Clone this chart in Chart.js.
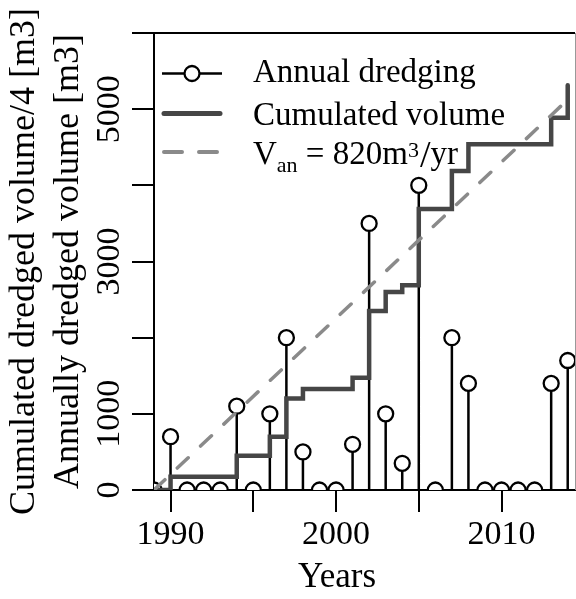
<!DOCTYPE html>
<html>
<head>
<meta charset="utf-8">
<script src="https://cdn.jsdelivr.net/npm/chart.js@4.4.1/dist/chart.umd.min.js"></script>
<style>
    html, body { margin: 0; padding: 0; background: #fff; }
    #wrap { width: 576px; height: 599px; }
</style>
</head>
<body>
<div id="wrap"><canvas id="chart"></canvas></div>
<script>
    const years = [1989, 1990, 1991, 1992, 1993, 1994, 1995, 1996, 1997, 1998, 1999, 2000, 2001,
        2002, 2003, 2004, 2005, 2006, 2007, 2008, 2009, 2010, 2011, 2012, 2013, 2014];
    // annually dredged volume [m3]
    const annualVolume = [0, 700, 0, 0, 0, 1100, 0, 1000, 2000, 500, 0, 0, 600,
        3500, 1000, 350, 4000, 0, 2000, 1400, 0, 0, 0, 0, 1400, 1700];
    // cumulated dredged volume / 4 [m3]
    const cumulatedVolume = [0, 175, 175, 175, 175, 450, 450, 700, 1200, 1325, 1325, 1325, 1475,
        2350, 2600, 2688, 3688, 3688, 4188, 4538, 4538, 4538, 4538, 4538, 4888, 5313];
    // V_an = 820 m3/yr line
    const trendYears = [1989, 2014];
    const trendVolume = [0, 5125];

    const xTicks = [1990, 1995, 2000, 2005, 2010];
    const xTickLabels = [1990, 2000, 2010];
    const yTicks = [0, 1000, 2000, 3000, 4000, 5000, 6000];
    const yTickLabels = [0, 1000, 3000, 5000];

    const serif = 'Liberation Serif';
    const stemColor = '#000000';
    const cumColor = '#464646';
    const trendColor = '#8a8a8a';

    // stems: (x,0) -> (x,v), then a gap
    const stemData = [];
    years.forEach((y, i) => {
        stemData.push({ x: y, y: 0 }, { x: y, y: annualVolume[i] }, { x: y, y: null });
    });

    const framePlugin = {
        id: 'frame',
        afterDraw(chart) {
            const { ctx, chartArea: a } = chart;
            ctx.save();
            ctx.strokeStyle = '#000';
            ctx.lineWidth = 2;
            ctx.beginPath();
            ctx.moveTo(a.left, a.top);
            ctx.lineTo(a.right, a.top);
            ctx.stroke();
            ctx.lineWidth = 1;
            ctx.strokeStyle = '#999';
            ctx.beginPath();
            ctx.moveTo(a.right + 0.5, a.top);
            ctx.lineTo(a.right + 0.5, a.bottom);
            ctx.stroke();
            // x axis title (sits left of the plot centre in the original)
            ctx.fillStyle = '#000';
            ctx.font = '35px "' + serif + '"';
            ctx.textAlign = 'center';
            ctx.textBaseline = 'alphabetic';
            ctx.fillText('Years', 337, 587);
            ctx.restore();
        }
    };

    const legendPlugin = {
        id: 'plotLegend',
        afterDraw(chart) {
            const ctx = chart.ctx;
            const x0 = 162, x1 = 222, tx = 253;
            ctx.save();
            ctx.fillStyle = '#000';
            ctx.textBaseline = 'alphabetic';
            ctx.textAlign = 'left';

            // Annual dredging
            ctx.strokeStyle = stemColor;
            ctx.lineWidth = 2.5;
            ctx.beginPath();
            ctx.moveTo(x0, 73.5);
            ctx.lineTo(x1, 73.5);
            ctx.stroke();
            ctx.beginPath();
            ctx.arc(192, 73.5, 7.5, 0, Math.PI * 2);
            ctx.fillStyle = '#fff';
            ctx.fill();
            ctx.lineWidth = 2.3;
            ctx.stroke();
            ctx.fillStyle = '#000';
            ctx.font = '33px "' + serif + '"';
            ctx.fillText('Annual dredging', tx, 82);

            // Cumulated volume
            ctx.strokeStyle = cumColor;
            ctx.lineWidth = 5;
            ctx.lineCap = 'round';
            ctx.beginPath();
            ctx.moveTo(x0 + 2, 113.5);
            ctx.lineTo(x1 - 2, 113.5);
            ctx.stroke();
            ctx.fillText('Cumulated volume', tx, 124.5);

            // V_an = 820m3/yr
            ctx.strokeStyle = trendColor;
            ctx.lineWidth = 4;
            ctx.setLineDash([18, 17]);
            ctx.beginPath();
            ctx.moveTo(x0 + 2, 152);
            ctx.lineTo(x1, 152);
            ctx.stroke();
            ctx.setLineDash([]);

            let cx = tx;
            const base = 163.5;
            const big = '33px "' + serif + '"';
            const small = '22px "' + serif + '"';
            ctx.font = big;
            ctx.fillText('V', cx, base);
            cx += ctx.measureText('V').width;
            ctx.font = small;
            ctx.fillText('an', cx, base + 8.5);
            cx += ctx.measureText('an').width;
            ctx.font = big;
            ctx.fillText(' = 820m', cx, base);
            cx += ctx.measureText(' = 820m').width;
            ctx.font = small;
            ctx.fillText('3', cx, base - 6.5);
            cx += ctx.measureText('3').width + 1;
            ctx.font = '38px "' + serif + '"';
            ctx.fillText('/', cx, base + 3);
            cx += ctx.measureText('/').width;
            ctx.font = big;
            ctx.fillText('yr', cx, base);
            ctx.restore();
        }
    };

    const ctx = document.getElementById('chart');
    new Chart(ctx, {
        type: 'line',
        data: {
            datasets: [
                {
                    label: 'V_an',
                    data: trendYears.map((y, i) => ({ x: y, y: trendVolume[i] })),
                    borderColor: trendColor,
                    borderWidth: 3.5,
                    borderDash: [15, 17],
                    borderCapStyle: 'round',
                    pointRadius: 0,
                    order: 0,
                },
                {
                    label: 'Cumulated volume',
                    data: years.map((y, i) => ({ x: y, y: cumulatedVolume[i] })),
                    borderColor: cumColor,
                    borderWidth: 4.5,
                    stepped: 'before',
                    borderCapStyle: 'round',
                    borderJoinStyle: 'miter',
                    pointRadius: 0,
                    order: 1,
                },
                {
                    label: 'Annual dredging',
                    data: years.map((y, i) => ({ x: y, y: annualVolume[i] })),
                    showLine: false,
                    pointRadius: 7.5,
                    pointBorderWidth: 2.3,
                    pointBorderColor: stemColor,
                    pointBackgroundColor: '#ffffff',
                    clip: 0,
                    order: 2,
                },
                {
                    label: 'stems',
                    data: stemData,
                    borderColor: stemColor,
                    borderWidth: 2.5,
                    pointRadius: 0,
                    spanGaps: false,
                    order: 3,
                },
            ],
        },
        options: {
            responsive: true,
            maintainAspectRatio: false,
            animation: false,
            events: [],
            layout: { autoPadding: false, padding: { top: 33, right: 1, left: 0, bottom: 0 } },
            plugins: {
                legend: { display: false },
                tooltip: { enabled: false },
            },
            scales: {
                x: {
                    type: 'linear',
                    min: 1989,
                    max: 2014.44,
                    afterFit: (scale) => {
                        scale.height = 109;
                        scale.paddingLeft = 0;
                        scale.paddingRight = 0;
                    },
                    afterBuildTicks: (scale) => { scale.ticks = xTicks.map(v => ({ value: v })); },
                    grid: { drawOnChartArea: false, tickLength: 22, color: '#000', lineWidth: 2 },
                    border: { color: '#000', width: 2 },
                    ticks: {
                        autoSkip: false,
                        maxRotation: 0,
                        padding: 3,
                        color: '#000',
                        font: { family: serif, size: 34 },
                        callback: (v) => xTickLabels.includes(v) ? String(v) : '',
                    },
                    title: { display: false },
                },
                y: {
                    min: 0,
                    max: 6000,
                    afterFit: (scale) => {
                        scale.width = 154;
                        scale.paddingTop = 0;
                        scale.paddingBottom = 0;
                    },
                    afterBuildTicks: (scale) => { scale.ticks = yTicks.map(v => ({ value: v })); },
                    grid: { drawOnChartArea: false, tickLength: 22, color: '#000', lineWidth: 2 },
                    border: { color: '#000', width: 2 },
                    ticks: {
                        autoSkip: false,
                        minRotation: 90,
                        maxRotation: 90,
                        crossAlign: 'center',
                        padding: -12,
                        color: '#000',
                        font: { family: serif, size: 34 },
                        callback: (v) => yTickLabels.includes(v) ? String(v) : '',
                    },
                    title: {
                        display: true,
                        text: ['Cumulated dredged volume/4 [m3]', 'Annually dredged volume [m3]'],
                        color: '#000',
                        font: { family: serif, size: 36 },
                        padding: { top: 3.3, bottom: 0 },
                    },
                },
            },
        },
        plugins: [framePlugin, legendPlugin],
    });
</script>
</body>
</html>
